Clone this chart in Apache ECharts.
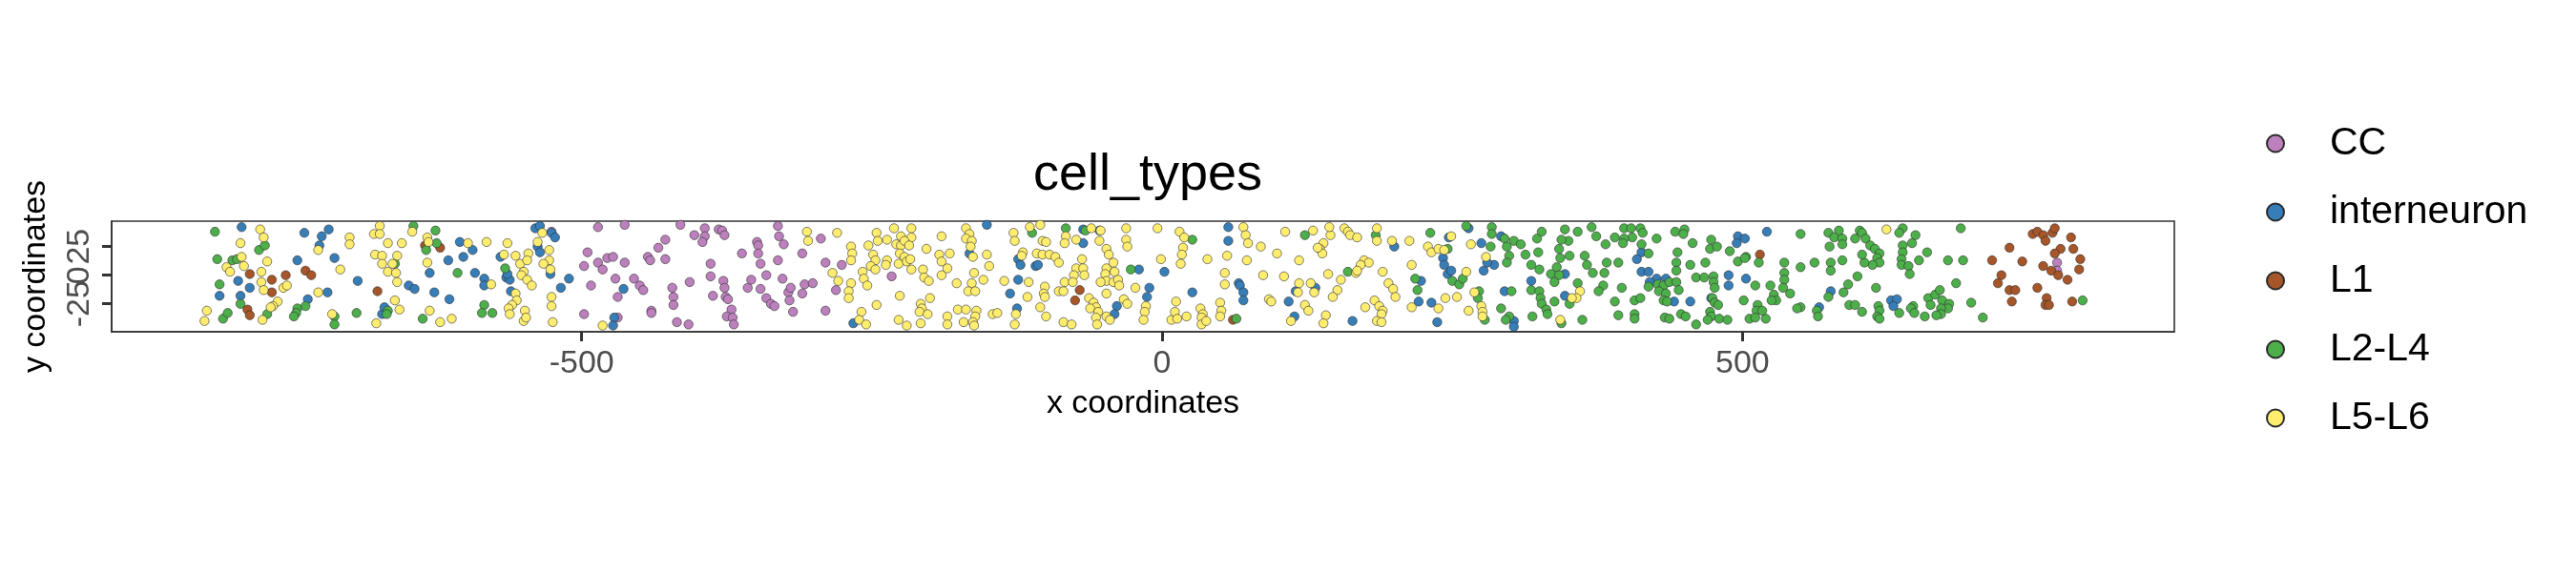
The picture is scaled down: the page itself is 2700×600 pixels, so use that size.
<!DOCTYPE html>
<html>
<head>
<meta charset="utf-8">
<script src="https://cdn.jsdelivr.net/npm/echarts@6/dist/echarts.min.js"></script>
<style>html,body{margin:0;padding:0;background:#fff}#chart{width:2700px;height:600px}</style>
</head>
<body>
<div id="chart"></div>
<script>
const categories = ['CC', 'interneuron', 'L1', 'L2-L4', 'L5-L6'];
const xTicks = [-500, 0, 500];
const yTicks = [-25, 0, 25];
const yOuterLabels = [-25, 25];
const yMiddleLabels = [0];

const ccPoints = [
[-526,38],[-486,42],[-495,20],[-498,8],[-486,11],[-482,5],[-478,15],[-473,16],[-492,-9],[-471,-3],[-469,-19],[-498,-34],[-469,-37],[-463,44],[-463,11],[-415,44],[-394,41],[-403,35],[-394,34],[-396,29],[-382,40],[-379,39],[-377,35],[-428,31],[-434,24],[-443,16],[-441,13],[-428,14],[-455,-3],[-450,-9],[-447,-13],[-422,-11],[-421,-19],[-421,-26],[-440,-31],[-418,-41],[-408,-43],[-407,-6],[-389,10],[-389,-1],[-387,-18],[-378,-5],[-377,-11],[-376,-19],[-374,-21],[-371,-30],[-375,-36],[-370,-37],[-369,-43],[-362,19],[-349,29],[-348,26],[-348,19],[-346,10],[-331,43],[-330,34],[-326,27],[-331,13],[-341,0],[-327,-3],[-357,-11],[-354,-4],[-346,-12],[-341,-20],[-337,-25],[-334,-27],[-322,-15],[-320,-11],[-321,-22],[-440,-33],
[-294,32],[-310,19],[-290,11],[-276,9],[-233,-1],[-308,-8],[-301,-7],[-310,-16],[-281,-13],[-318,-32],[-290,-31],
[771,11],[771,4]
];

const interneuronPoints = [
[-793,42],[-812,-18],[-796,-5],[-786,-11],[-794,-18],[-739,37],[-718,40],[-724,34],[-726,26],[-745,13],[-713,15],[-736,-21],[-719,-15],[-693,-5],[-649,-9],[-644,-12],[-627,-15],[-614,-21],[-631,2],[-605,29],[-594,22],[-602,16],[-615,13],[-592,2],[-584,-3],[-584,-9],[-570,16],[-565,-2],[-562,-4],[-564,1],[-561,-14],[-540,41],[-536,43],[-526,37],[-523,33],[-538,25],[-536,20],[-527,1],[-518,-11],[-511,-3],[-472,-37],[-473,-44],[-672,-34],[-670,-28],[-464,-12],
[-151,44],[-166,19],[-124,14],[-122,9],[-109,8],[-107,9],[-124,-4],[-131,-16],[-125,-29],[-68,40],[-68,28],[-20,5],[2,3],[-11,-11],[-13,-19],[-39,-27],[-41,-34],[-266,-42],[-54,39],
[26,-15],[57,42],[57,30],[66,-7],[67,-9],[70,-15],[70,-22],[114,-36],[109,-23],[132,-11],[115,-14],[164,-40],[200,25],
[264,41],[247,33],[242,15],[243,9],[246,1],[249,4],[223,-5],[221,-23],[232,-24],[237,-41],[277,4],[286,9],[280,11],[275,28],[292,34],[295,-14],[303,-40],[303,-45],[318,-5],[347,1],[347,-18],[413,20],[409,14],[413,3],[419,3],[426,-3],[434,-3],[420,-6],[441,-23],[455,-23],[473,-20],[488,0],[488,-9],[496,34],[502,32],[495,28],[521,38],[503,-3],
[576,-14],[566,-28],[628,-22],[633,-21],[630,-27]
];

const l1Points = [
[-786,1],[-788,-30],[-786,-35],[-767,-4],[-767,-15],[-755,0],[-738,4],[-733,0],[-676,-14],[-635,26],[-622,24],
[-71,-13],[-75,-22],[61,-39],[515,18],
[750,36],[754,38],[759,35],[761,30],[767,37],[769,41],[783,33],[774,23],[769,19],[785,23],[791,14],[790,5],[759,8],[766,4],[772,0],[780,-4],[730,24],[715,13],[741,12],[723,0],[720,-7],[730,-13],[735,-13],[754,-11],[732,-23],[762,-20],[761,-26],[764,-26],[784,-23]
];

const l2l4Points = [
[-816,38],[-814,14],[-801,13],[-797,14],[-812,-8],[-778,22],[-773,26],[-794,-25],[-809,-38],[-805,-33],[-771,-34],[-745,-29],[-746,-33],[-748,-36],[-738,-27],[-713,-36],[-713,-43],[-694,-33],[-667,-31],[-668,-34],[-661,10],[-645,43],[-626,39],[-625,28],[-634,22],[-607,2],[-637,-38],[-584,-26],[-586,-33],[-577,-33],[-566,6],
[-112,37],[-83,41],[-66,39],[-27,5],
[26,31],[64,-38],[123,35],[184,35],[160,3],
[231,37],[262,43],[246,23],[284,42],[284,36],[283,25],[295,32],[303,30],[309,27],[297,25],[299,17],[297,11],[313,18],[324,20],[323,32],[327,38],[318,9],[325,5],[347,40],[358,38],[350,30],[344,31],[342,23],[343,15],[351,17],[340,7],[335,1],[342,0],[338,-6],[358,-7],[364,17],[366,9],[370,42],[374,34],[382,27],[390,33],[383,11],[393,11],[371,2],[381,2],[380,-9],[376,-14],[396,-11],[398,41],[404,41],[412,41],[414,37],[405,33],[398,32],[397,28],[413,27],[419,19],[426,32],[442,38],[450,40],[449,36],[457,28],[444,20],[443,11],[443,4],[455,9],[468,11],[473,31],[472,23],[478,25],[489,21],[496,12],[503,16],[514,11],[536,11],[536,2],[536,-4],[460,-2],[467,-2],[475,-1],[475,-6],[476,-11],[474,-20],[476,-24],[479,-26],[472,-32],[473,-36],[470,-39],[480,-38],[487,-39],[501,-22],[513,-26],[512,-31],[506,-38],[511,-37],[520,-38],[517,-31],[511,-9],[524,-9],[527,-17],[529,-22],[525,-22],[535,-11],[541,-16],[218,-3],[220,-13],[250,-5],[256,-8],[259,-3],[273,-14],[272,-20],[278,-39],[292,-29],[299,-36],[296,-39],[301,-14],[318,-13],[325,-14],[326,-20],[327,-25],[331,-30],[332,-34],[319,-36],[338,-23],[351,-25],[362,-39],[344,-42],[390,-23],[407,-22],[412,-20],[393,-35],[407,-34],[407,-38],[419,-10],[427,-8],[432,-9],[428,-14],[437,-6],[443,-6],[445,-13],[434,-16],[432,-22],[435,-23],[433,-37],[437,-38],[447,-34],[451,-36],[460,-43],[502,15],
[550,36],[574,37],[583,39],[579,33],[586,32],[586,27],[575,25],[597,32],[601,39],[603,37],[606,32],[610,26],[614,23],[618,19],[616,15],[618,11],[612,9],[605,11],[603,18],[638,41],[635,37],[649,35],[646,28],[638,26],[638,20],[637,14],[637,9],[643,8],[644,1],[659,20],[652,13],[677,13],[690,13],[688,41],[550,7],[562,11],[576,11],[576,4],[586,13],[599,-1],[591,-8],[587,-15],[574,-19],[615,-11],[592,-26],[597,-26],[603,-32],[617,-27],[618,-31],[616,-36],[618,-38],[635,-33],[647,-27],[645,-29],[648,-33],[657,-36],[660,-20],[662,-26],[666,-17],[670,-13],[672,-22],[678,-25],[677,-29],[671,-29],[671,-34],[667,-35],[684,-7],[697,-24],[707,-37],[793,-22],[564,-31],[565,-36],[550,-28],[547,-29]
];

const l5l6Points = [
[-825,-40],[-823,-31],[-777,40],[-774,33],[-794,28],[-793,16],[-791,8],[-806,7],[-803,3],[-771,12],[-776,3],[-776,-6],[-774,-13],[-757,-11],[-754,-9],[-762,-23],[-766,-27],[-768,-28],[-775,-39],[-727,22],[-708,5],[-727,-15],[-715,-34],[-700,33],[-700,27],[-679,36],[-674,43],[-674,36],[-678,18],[-672,17],[-672,10],[-667,28],[-655,28],[-659,17],[-663,10],[-667,3],[-660,2],[-659,-6],[-661,-22],[-657,-30],[-677,-42],[-646,38],[-633,33],[-633,11],[-632,29],[-631,-31],[-622,-41],[-612,-38],[-598,28],[-582,29],[-578,-8],[-567,18],[-564,28],[-557,17],[-553,10],[-546,19],[-547,13],[-550,3],[-552,0],[-547,-4],[-543,-9],[-557,-16],[-556,-22],[-560,-26],[-563,-29],[-562,-34],[-549,-31],[-550,-40],[-548,-37],[-534,37],[-538,29],[-528,22],[-528,13],[-533,10],[-527,5],[-526,-19],[-526,-27],[-525,-41],[-482,-44],
[-306,38],[-305,30],[-280,37],[-284,2],[-279,-5],[-268,25],[-267,19],[-268,13],[-268,-7],[-270,-14],[-270,-20],[-253,26],[-246,37],[-245,30],[-237,31],[-231,41],[-216,41],[-216,33],[-225,34],[-229,27],[-225,26],[-222,30],[-218,26],[-249,18],[-247,13],[-251,8],[-258,3],[-257,-3],[-254,-9],[-247,5],[-237,13],[-238,9],[-226,19],[-227,10],[-222,16],[-220,12],[-217,14],[-216,5],[-203,23],[-206,5],[-205,-2],[-201,-5],[-190,34],[-192,18],[-190,12],[-183,19],[-185,6],[-190,0],[-177,-7],[-169,41],[-166,36],[-169,32],[-164,30],[-165,25],[-163,16],[-162,2],[-164,-7],[-167,-14],[-161,-14],[-151,18],[-149,8],[-154,-4],[-226,-18],[-246,-26],[-200,-20],[-208,-25],[-207,-29],[-209,-32],[-202,-34],[-208,-42],[-227,-39],[-220,-44],[-259,-32],[-261,-39],[-255,-43],[-185,-36],[-185,-43],[-176,-30],[-169,-30],[-160,-31],[-161,-36],[-171,-41],[-163,-41],[-162,-44],[-146,-34],[-142,-33],[-126,-34],[-127,-43],[-136,-5],[-115,-6],[-116,-19],[-105,-28],[-100,-36],[-85,-41],[-78,-43],[-128,37],[-127,30],[-114,42],[-105,44],[-103,30],[-100,29],[-83,34],[-84,28],[-74,31],[-120,20],[-121,17],[-108,19],[-103,18],[-97,18],[-92,16],[-89,11],[-101,-10],[-102,-16],[-101,-19],[-84,-6],[-89,-14],[-85,-14],[-74,6],[-76,0],[-77,-6],[-69,14],[-68,6],[-67,0],[-63,-20],[-59,-24],[-57,-28],[-62,-29],[-55,-32],[-57,-37],[-48,-36],[-45,-39],[-56,-43],[-61,41],[-53,39],[-54,30],[-48,23],[-46,18],[-42,11],[-48,6],[-49,1],[-41,3],[-48,-5],[-42,-6],[-38,-4],[-37,-9],[-53,-6],[-31,41],[-31,31],[-30,25],[-33,-21],[-30,-25],[-23,-11],[-48,-16],[-4,41],[-1,14],[-14,-27],[-15,-32],[-16,-39],[8,-39],
[15,38],[19,33],[18,24],[17,18],[16,10],[39,14],[12,-23],[11,-32],[13,-38],[21,-36],[33,-29],[35,-34],[34,-37],[34,-43],[38,-40],[50,-24],[51,-31],[50,-36],[54,2],[54,-8],[56,17],[70,42],[72,35],[74,28],[73,13],[85,25],[99,19],[106,38],[118,13],[130,39],[139,28],[136,23],[138,19],[134,24],[145,35],[144,42],[157,41],[160,38],[162,35],[168,33],[185,41],[185,30],[198,30],[213,30],[174,13],[178,11],[171,9],[167,2],[168,4],[143,1],[154,-4],[151,-13],[147,-19],[128,-7],[131,-15],[118,-7],[117,-15],[87,0],[105,-1],[92,-21],[94,-23],[123,-26],[126,-31],[141,-35],[139,-42],[111,-40],[175,-28],[183,-22],[187,-27],[190,-31],[189,-34],[185,-40],[189,-41],[190,3],[195,-7],[199,-12],[201,-19],[215,9],[215,-28],
[249,34],[229,25],[232,20],[238,23],[243,22],[266,27],[262,3],[244,-20],[254,-19],[238,-29],[269,-15],[264,-31],[275,-27],[276,-32],[276,-36],[279,16],[343,-39],[360,-14],[357,-20],[353,-20],
[624,40]
];

const seriesPoints = [ccPoints, interneuronPoints, l1Points, l2l4Points, l5l6Points];
const colors = ['#BC80BD', '#377EB8', '#A65628', '#4DAF4A', '#FFED6F'];
const FONT = '"Liberation Sans", Arial, Helvetica, sans-serif';
const Y_MIN = -49.4, Y_MAX = 47.2;

const yLabelStyle = {showMinLabel: true, showMaxLabel: true, hideOverlap: false, rotate: 90, color: '#4D4D4D', fontSize: 34, margin: 16, fontFamily: FONT};

const chart = echarts.init(document.getElementById('chart'), null, {renderer: 'canvas'});
chart.setOption({
  animation: false,
  backgroundColor: '#ffffff',
  textStyle: {fontFamily: FONT},
  title: {
    text: 'cell_types',
    left: 1198,
    textAlign: 'center',
    top: 152,
    textStyle: {fontSize: 54, fontWeight: 'normal', color: '#000000', fontFamily: FONT}
  },
  legend: {
    orient: 'vertical',
    left: 2370,
    top: 125,
    padding: 5,
    itemWidth: 18,
    itemHeight: 18,
    itemGap: 31,
    selectedMode: false,
    data: categories,
    textStyle: {fontSize: 41, lineHeight: 41, color: '#000000', fontFamily: FONT, padding: [0, 0, 0, 43]}
  },
  grid: {
    left: 117, right: 421, top: 232, bottom: 252,
    show: true, borderColor: '#333333', borderWidth: 1.6, backgroundColor: '#ffffff'
  },
  xAxis: {
    type: 'value', min: -905, max: 872,
    name: 'x coordinates', nameLocation: 'middle', nameGap: 59,
    nameTextStyle: {fontSize: 34, color: '#000000', fontFamily: FONT},
    axisLine: {show: true, onZero: false, lineStyle: {color: '#333333', width: 1.6}},
    splitLine: {show: false},
    axisTick: {show: true, length: 10, customValues: xTicks, lineStyle: {color: '#333333', width: 3}},
    axisLabel: {customValues: xTicks, showMinLabel: true, showMaxLabel: true, hideOverlap: false, color: '#4D4D4D', fontSize: 34, margin: 17, fontFamily: FONT}
  },
  yAxis: [{
    type: 'value', min: Y_MIN, max: Y_MAX, position: 'left',
    name: 'y coordinates', nameLocation: 'middle', nameGap: 62, nameRotate: 90,
    nameTextStyle: {fontSize: 34, color: '#000000', fontFamily: FONT},
    axisLine: {show: true, onZero: false, lineStyle: {color: '#333333', width: 1.6}},
    splitLine: {show: false},
    axisTick: {show: true, length: 10, customValues: yTicks, lineStyle: {color: '#333333', width: 3}},
    axisLabel: Object.assign({customValues: yOuterLabels}, yLabelStyle)
  }, {
    type: 'value', min: Y_MIN, max: Y_MAX, position: 'left', offset: 0,
    axisLine: {show: false, onZero: false},
    splitLine: {show: false},
    axisTick: {show: false},
    axisLabel: Object.assign({customValues: yMiddleLabels}, yLabelStyle)
  }],
  series: categories.map((name, i) => ({
    name: name,
    type: 'scatter',
    yAxisIndex: 0,
    data: seriesPoints[i],
    symbol: 'circle',
    symbolSize: 9.5,
    itemStyle: {color: colors[i], borderColor: '#2b2b2b', borderWidth: 0.6, opacity: 1},
    emphasis: {disabled: true}
  }))
});
</script>
</body>
</html>
